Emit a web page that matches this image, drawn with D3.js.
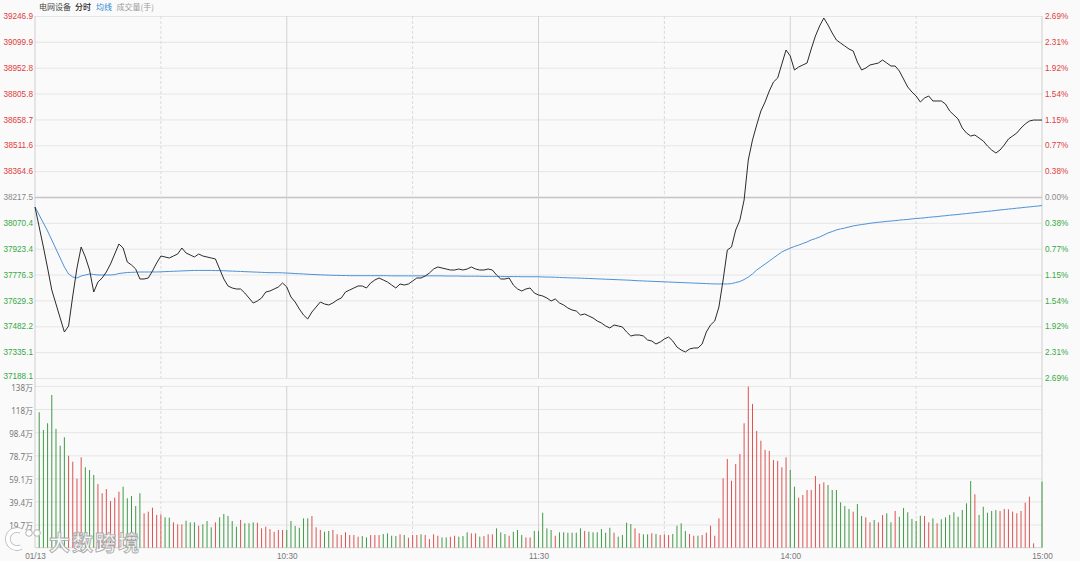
<!DOCTYPE html>
<html><head><meta charset="utf-8">
<script src="https://cdn.jsdelivr.net/npm/d3@7"></script>
<style>
html,body{margin:0;padding:0;background:#fafafa;}
svg{display:block;font-family:"Noto Sans","Noto Sans CJK SC",sans-serif;}
</style></head>
<body>
<svg id="c" width="1080" height="561"></svg>
<script>
// ---------------- data ----------------
const preClose = 38217.5;
const timeTickIdx = [0, 60, 120, 180, 240];
const timeTickLabels = ["01/13", "10:30", "11:30", "14:00", "15:00"];
const dashedIdx = [30, 90, 150, 210];
const priceTicks = [39246.9, 39099.9, 38952.8, 38805.8, 38658.7, 38511.6, 38364.6, 38217.5,
                    38070.4, 37923.4, 37776.3, 37629.3, 37482.2, 37335.1, 37188.1];
const pctLabels = ["2.69%", "2.31%", "1.92%", "1.54%", "1.15%", "0.77%", "0.38%", "0.00%",
                   "0.38%", "0.77%", "1.15%", "1.54%", "1.92%", "2.31%", "2.69%"];
const volTicks = [137.8, 118.1, 98.4, 78.7, 59.1, 39.4, 19.7];
const volLabels = ["138万", "118万", "98.4万", "78.7万", "59.1万", "39.4万", "19.7万"];

// minute prices 09:30 .. 11:30, 13:01 .. 15:00 (241 points)
const price = [
38160.6,38046.9,37933.1,37813.7,37688.6,37609.0,37529.4,37449.8,37483.9,37654.5,
37813.7,37933.1,37876.3,37802.3,37677.2,37734.1,37756.9,37791.0,37836.5,37893.3,
37950.2,37927.5,37847.8,37830.8,37808.0,37751.2,37751.2,37756.9,37796.7,37842.2,
37882.0,37876.3,37870.6,37882.0,37893.3,37927.5,37899.0,37887.7,37876.3,37893.3,
37882.0,37876.3,37870.6,37864.9,37808.0,37751.2,37711.4,37700.0,37694.3,37694.3,
37671.5,37643.1,37614.7,37626.1,37643.1,37677.2,37682.9,37694.3,37705.7,37728.4,
37705.7,37648.8,37620.4,37580.6,37546.4,37523.7,37563.5,37591.9,37620.4,37609.0,
37603.3,37614.7,37631.7,37643.1,37677.2,37688.6,37700.0,37711.4,37711.4,37700.0,
37728.4,37745.5,37756.9,37745.5,37734.1,37717.0,37700.0,37722.7,37717.0,37722.7,
37739.8,37756.9,37756.9,37768.2,37785.3,37808.0,37819.4,37813.7,37808.0,37802.3,
37802.3,37808.0,37802.3,37808.0,37819.4,37808.0,37802.3,37802.3,37808.0,37802.3,
37773.9,37751.2,37751.2,37756.9,37717.0,37694.3,37682.9,37694.3,37700.0,37671.5,
37660.2,37654.5,37643.1,37626.1,37637.4,37614.7,37603.3,37586.2,37574.9,37569.2,
37546.4,37552.1,37540.7,37529.4,37512.3,37500.9,37483.9,37472.5,37489.6,37483.9,
37478.2,37449.8,37427.0,37432.7,37432.7,37427.0,37404.3,37398.6,37381.5,37392.9,
37409.9,37421.3,37398.6,37364.4,37347.4,37336.0,37353.1,37358.8,37358.8,37381.5,
37449.8,37489.6,37512.3,37591.9,37745.5,37916.1,37933.1,38029.8,38086.7,38200.4,
38427.9,38541.7,38627.0,38706.6,38757.8,38820.3,38871.5,38894.3,38973.9,39053.5,
39019.4,38939.7,38956.8,38968.2,38979.6,39059.2,39133.1,39190.0,39235.5,39195.7,
39150.2,39110.4,39093.3,39076.2,39059.2,39047.8,38985.2,38939.7,38951.1,38968.2,
38973.9,38979.6,38996.6,38979.6,38962.5,38962.5,38934.1,38888.6,38843.1,38814.6,
38791.9,38757.8,38780.5,38791.9,38763.5,38763.5,38763.5,38746.4,38706.6,38683.8,
38661.1,38609.9,38581.5,38564.4,38570.1,38553.0,38536.0,38507.5,38484.8,38467.7,
38484.8,38513.2,38547.3,38564.4,38581.5,38609.9,38632.7,38649.7,38655.0,38655.0,38655.0];

// average price line
const avgPrice = [
38160.6,38115.1,38069.6,38024.1,37973.0,37921.8,37870.6,37819.4,37779.6,37762.5,
37756.9,37768.2,37773.9,37779.6,37776.8,37773.9,37773.9,37773.9,37773.9,37776.0,
37782.4,37785.3,37788.2,37789.0,37790.0,37791.0,37791.0,37791.0,37791.0,37791.0,
37792,37793,37794,37795,37796,37797,37798,37799,37800,37800,
37800,37800,37800,37799,37799,37798,37797,37796,37795,37794,
37793,37792,37791,37790,37789,37788,37787,37787,37787,37786,
37785,37784,37782,37781,37780,37778,37777,37776,37775,37774,
37773,37772,37772,37771,37771,37770,37770,37770,37770,37770,
37770,37770,37770,37770,37770,37769,37769,37769,37769,37769,
37769,37769,37769,37769,37769,37769,37769,37769,37768,37768,
37768,37768,37767,37767,37767,37767,37767,37766,37766,37766,
37766,37766,37765,37765,37765,37765,37764,37764,37764,37764,
37764,37763,37762,37762,37761,37760,37759,37758,37757,37757,
37756,37755,37754,37753,37752,37751,37750,37749,37748,37747,
37746,37745,37744,37742,37741,37740,37739,37738,37737,37736,
37735,37734,37733,37732,37731,37730,37729,37728,37727,37726,
37725,37724,37723,37723,37723,37723,37725,37731,37737,37748,
37762,37780,37802,37819,37836,37853,37871,37888,37905,37916,
37927,37936,37944,37953,37962,37973,37981,37990,38001,38013,
38021,38030,38036,38041,38047,38053,38057,38061,38064,38068,
38071,38074,38076,38079,38081,38083,38086,38088,38090,38093,
38095,38097,38099,38102,38104,38106,38109,38111,38114,38116,
38118,38121,38123,38126,38128,38131,38133,38136,38138,38141,
38144,38146,38149,38151,38154,38156,38159,38161,38164,38166,38169];

// volume per minute, in 万手
const volume = [
null,115.4,100.3,106.0,130.1,101.2,86.9,94.1,78.4,73.3,
58.8,77.0,68.5,66.2,62.0,54.3,46.4,50.0,39.8,42.6,
47.7,52.0,42.1,44.1,35.5,46.4,29.3,30.7,34.1,27.9,
28.4,25.9,25.6,21.6,19.9,19.9,23.0,21.6,21.6,18.7,
19.9,22.7,17.4,21.6,25.9,28.7,27.0,22.7,17.9,23.6,
20.8,20.8,21.6,21.3,16.5,17.9,15.9,13.6,15.1,15.1,
15.1,22.7,18.5,17.0,25.0,25.0,27.0,17.4,15.1,13.6,
14.3,15.1,11.4,10.8,13.1,10.8,10.8,9.4,9.9,8.8,
10.8,10.8,10.8,11.7,12.2,10.2,9.9,11.4,10.8,8.5,
10.8,10.8,11.4,10.8,7.4,11.4,10.2,8.8,8.8,9.4,
10.2,9.4,9.9,13.1,12.2,12.2,9.4,9.9,11.4,11.4,
16.5,13.1,11.7,10.2,13.6,15.1,10.8,8.8,8.8,14.3,
14.3,29.8,16.5,15.1,10.2,13.1,13.1,12.8,12.8,12.8,
16.5,14.3,13.6,13.1,13.1,15.9,12.8,17.0,12.8,9.4,
10.8,21.3,20.2,16.5,12.3,11.4,11.4,12.3,11.7,10.8,
11.4,10.8,11.7,18.7,20.8,14.2,11.7,10.2,10.2,10.8,
12.8,18.7,10.2,25.0,59.1,75.6,57.1,71.3,79.8,106.0,
137.2,122.5,99.5,91.2,83.3,82.4,74.7,73.9,68.5,77.0,
66.2,52.0,42.6,44.9,49.2,49.2,61.1,54.3,55.7,53.4,
49.2,49.2,38.7,35.5,33.0,30.7,37.2,27.0,25.9,21.6,
23.6,21.6,27.9,29.3,21.6,31.3,26.4,33.8,30.2,24.5,
22.7,27.3,27.0,21.6,25.0,20.8,24.2,25.9,27.9,30.2,
26.4,32.1,37.8,56.8,45.5,27.9,34.9,29.8,31.3,32.1,
31.3,33.0,32.7,30.7,29.3,31.3,38.4,43.5,3.7,0,56.3];

// bar direction per minute (u = red, d = green)
const direction = ("dddddddduu" + "uuddduuuuu" + "uddddduuuu" + "udduuudddu" +
  "dddudddddu" + "ddduuuuuuu" + "dddddduuud" + "duuuuuuudd" + "uuuddddudu" +
  "uuduuuuddu" + "uddduuduuu" + "ddduddduud" + "dddduddddd" + "duddddddud" +
  "ddduuddudu" + "uudddduudu" + "uuuuuuuuuu" + "uuuuuuuuuu" + "dduuuuuuud" +
  "dddddudduu" + "duuddudddd" + "dduududddd" + "dddduddddd" + "uuuuuuuuuud").split("");

// ---------------- drawing ----------------
const RED = "#e03c3c", GREEN = "#37a845", GRAY = "#8a8a8a";
const BAR_RED = "#dc5252", BAR_GREEN = "#409a46";
const svg = d3.select("#c");
const L = 35, R = 1042;
const x = d3.scaleLinear().domain([0, 240]).range([L, R]);
const yP = d3.scaleLinear().domain([37188.1, 39246.9]).range([378, 16]);
const yV = d3.scaleLinear().domain([0, 137.76]).range([547.7, 386]);

// header
const hdr = svg.append("g").attr("font-family", '"Noto Sans CJK SC",sans-serif').attr("font-size", 8);
hdr.append("text").attr("x", 39).attr("y", 9.5).attr("fill", "#444").text("电网设备");
hdr.append("text").attr("x", 75).attr("y", 9.5).attr("fill", "#222").attr("font-weight", 500).text("分时");
hdr.append("text").attr("x", 96).attr("y", 9.5).attr("fill", "#2f86d6").text("均线");
hdr.append("text").attr("x", 116.5).attr("y", 9.5).attr("fill", "#9a9a9a").text("成交量(手)");

// price grid + left axis
const gL = svg.append("g").attr("transform", `translate(${L},0)`)
  .call(d3.axisLeft(yP).tickValues(priceTicks).tickFormat(d => d.toFixed(1))
    .tickSize(-(R - L)).tickPadding(2));
gL.select(".domain").remove();
gL.selectAll(".tick line").attr("stroke", d => d === preClose ? "#c4c4c4" : "#e6e6e6")
  .attr("stroke-width", d => d === preClose ? 1.6 : 1);
gL.selectAll(".tick text").attr("font-size", 8.2)
  .attr("dy", d => d === 37188.1 ? "0.1em" : "0.32em")
  .attr("fill", d => d > preClose ? RED : d < preClose ? GREEN : GRAY);

// right percent axis
const gR = svg.append("g").attr("transform", `translate(${R},0)`)
  .call(d3.axisRight(yP).tickValues(priceTicks).tickFormat((d, i) => pctLabels[i])
    .tickSize(0).tickPadding(3));
gR.select(".domain").remove();
gR.selectAll(".tick text").attr("font-size", 8.2)
  .attr("fill", d => d > preClose ? RED : d < preClose ? GREEN : GRAY);

// volume grid + axis
const gV = svg.append("g").attr("transform", `translate(${L},0)`)
  .call(d3.axisLeft(yV).tickValues(volTicks).tickFormat((d, i) => volLabels[i])
    .tickSize(-(R - L)).tickPadding(2));
gV.select(".domain").remove();
gV.selectAll(".tick line").attr("stroke", "#e6e6e6");
gV.selectAll(".tick text").attr("font-size", 8).attr("fill", "#777")
  .attr("dy", d => d === 137.8 ? "0.62em" : "0.5em")
  .attr("font-family", '"Noto Sans","Noto Sans CJK SC",sans-serif');

// vertical grid lines
const vgrid = svg.append("g");
[[16, 378], [386, yV(0)]].forEach(([a, b]) => {
  [60, 120, 180].forEach(i => vgrid.append("line").attr("x1", x(i)).attr("x2", x(i))
    .attr("y1", a).attr("y2", b).attr("stroke", "#d2d2d2"));
  dashedIdx.forEach(i => vgrid.append("line").attr("x1", x(i)).attr("x2", x(i))
    .attr("y1", a).attr("y2", b).attr("stroke", "#dadada").attr("stroke-dasharray", "3,2"));
});
// frame lines
svg.append("line").attr("x1", L).attr("x2", L).attr("y1", 16).attr("y2", yV(0)).attr("stroke", "#cfcfcf");
svg.append("line").attr("x1", R).attr("x2", R).attr("y1", 16).attr("y2", yV(0)).attr("stroke", "#cfcfcf");
svg.append("line").attr("x1", L).attr("x2", R).attr("y1", yV(0)).attr("y2", yV(0)).attr("stroke", "#d6d6d6");

// volume bars
const idx = d3.range(241);
svg.append("g").selectAll("rect").data(idx.filter(i => volume[i] != null && volume[i] > 0))
  .join("rect")
  .attr("x", i => x(i) - 0.5).attr("width", 1)
  .attr("y", i => yV(volume[i])).attr("height", i => yV(0) - yV(volume[i]))
  .attr("fill", i => direction[i] === "u" ? BAR_RED : BAR_GREEN);

// average line
svg.append("path").datum(idx)
  .attr("d", d3.line().x(i => x(i)).y(i => yP(avgPrice[i])))
  .attr("fill", "none").attr("stroke", "#4a92d8").attr("stroke-width", 1);

// price line
svg.append("path").datum(idx)
  .attr("d", d3.line().x(i => x(i)).y(i => yP(price[i])))
  .attr("fill", "none").attr("stroke", "#2b2b2b").attr("stroke-width", 1);

// time axis
const gT = svg.append("g").attr("transform", `translate(0,${yV(0)})`)
  .call(d3.axisBottom(x).tickValues(timeTickIdx).tickFormat((d, i) => timeTickLabels[i])
    .tickSize(0).tickPadding(5));
gT.select(".domain").remove();
gT.selectAll(".tick text").attr("font-size", 8.2).attr("fill", "#777");

// watermark
const wm = svg.append("g");
const cArc = "M21,531 A9,9 0 1 0 21,547";
wm.append("path").attr("d", cArc).attr("fill", "none")
  .attr("stroke", "#aaa").attr("stroke-width", 5.6).attr("opacity", 0.8);
wm.append("path").attr("d", cArc).attr("fill", "none")
  .attr("stroke", "#fff").attr("stroke-width", 4);
[[29, 533], [37, 533]].forEach(([cx, cy]) => wm.append("circle").attr("cx", cx).attr("cy", cy)
  .attr("r", 3.3).attr("fill", "#fff").attr("fill-opacity", 0.85)
  .attr("stroke", "#aaa").attr("stroke-width", 0.9));
wm.append("text").attr("x", 49).attr("y", 550).attr("font-size", 21)
  .attr("font-family", '"Noto Sans CJK SC",sans-serif').attr("font-weight", 700)
  .attr("fill", "#fff").attr("fill-opacity", 0.85).attr("stroke", "#aaa").attr("stroke-width", 0.9)
  .attr("letter-spacing", 2).text("大数跨境");
</script>
</body></html>
